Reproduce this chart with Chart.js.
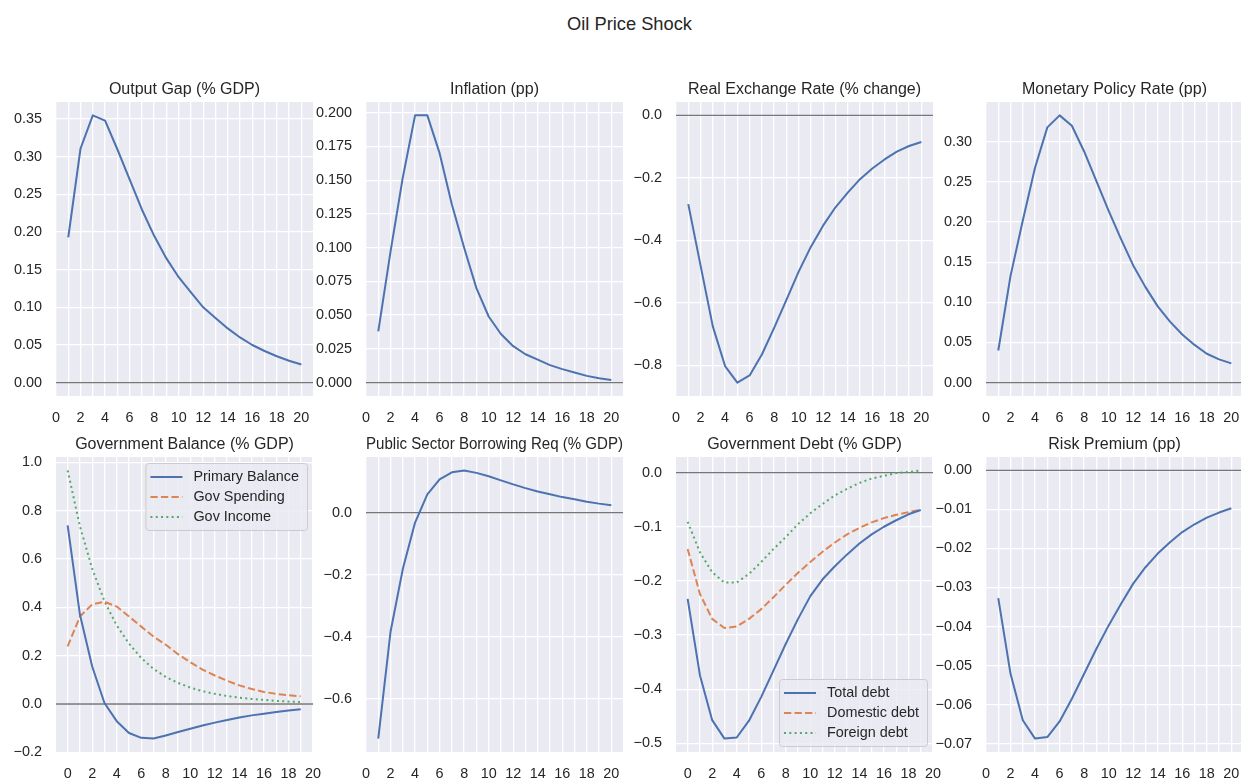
<!DOCTYPE html>
<html><head><meta charset="utf-8">
<script src="https://cdn.jsdelivr.net/npm/chart.js@4"></script>
<style>
html,body{margin:0;padding:0;background:#fff;overflow:hidden;width:1241px;height:779px;position:relative;}
#sup{position:absolute;left:0;width:1259px;top:12px;text-align:center;font-family:'Liberation Sans',Arial,sans-serif;font-size:18.3px;line-height:24px;color:#262626;}
canvas{position:absolute;}
</style></head><body>
<div id="sup">Oil Price Shock</div>
<script>
// ---------------- data ----------------
const periods1 = [1,2,3,4,5,6,7,8,9,10,11,12,13,14,15,16,17,18,19,20];
const periods0 = [0,1,2,3,4,5,6,7,8,9,10,11,12,13,14,15,16,17,18,19];
const xGrid = [0,1,2,3,4,5,6,7,8,9,10,11,12,13,14,15,16,17,18,19,20];
const xTickLabels = [0,2,4,6,8,10,12,14,16,18,20];

const outputGap = [0.193,0.311,0.355,0.348,0.310,0.270,0.230,0.195,0.165,0.140,0.120,0.100,0.086,0.072,0.060,0.050,0.042,0.035,0.029,0.024];
const inflation = [0.038,0.097,0.152,0.198,0.198,0.170,0.132,0.100,0.070,0.049,0.036,0.027,0.021,0.017,0.013,0.010,0.0075,0.005,0.0033,0.002];
const realExchangeRate = [-0.284,-0.48,-0.675,-0.802,-0.855,-0.832,-0.765,-0.68,-0.59,-0.50,-0.42,-0.352,-0.294,-0.247,-0.204,-0.170,-0.141,-0.116,-0.098,-0.085];
const policyRate = [0.040,0.133,0.202,0.268,0.318,0.333,0.320,0.288,0.251,0.214,0.179,0.146,0.119,0.095,0.076,0.060,0.047,0.036,0.029,0.024];
const primaryBalance = [0.739,0.370,0.155,0.004,-0.071,-0.120,-0.140,-0.143,-0.130,-0.116,-0.102,-0.089,-0.077,-0.066,-0.056,-0.047,-0.040,-0.033,-0.027,-0.022];
const govSpending = [0.238,0.362,0.412,0.423,0.403,0.362,0.320,0.279,0.245,0.206,0.173,0.142,0.118,0.096,0.077,0.062,0.050,0.042,0.036,0.032];
const govIncome = [0.966,0.735,0.560,0.425,0.325,0.250,0.190,0.145,0.112,0.087,0.068,0.053,0.042,0.033,0.026,0.021,0.017,0.013,0.010,0.008];
const psbr = [-0.728,-0.384,-0.182,-0.032,0.059,0.107,0.130,0.136,0.128,0.117,0.104,0.091,0.079,0.068,0.059,0.050,0.043,0.035,0.029,0.024];
const totalDebt = [-0.233,-0.374,-0.457,-0.491,-0.489,-0.458,-0.414,-0.365,-0.316,-0.270,-0.228,-0.197,-0.173,-0.151,-0.131,-0.114,-0.100,-0.088,-0.077,-0.069];
const domesticDebt = [-0.141,-0.224,-0.270,-0.287,-0.284,-0.270,-0.252,-0.230,-0.207,-0.185,-0.165,-0.146,-0.129,-0.114,-0.102,-0.092,-0.084,-0.078,-0.073,-0.069];
const foreignDebt = [-0.091,-0.147,-0.184,-0.203,-0.203,-0.187,-0.165,-0.141,-0.119,-0.095,-0.075,-0.058,-0.042,-0.030,-0.019,-0.011,-0.006,-0.001,0.001,0.004];
const riskPremium = [-0.0327,-0.0521,-0.0640,-0.0687,-0.0683,-0.0643,-0.0585,-0.0521,-0.0457,-0.0397,-0.0342,-0.0290,-0.0248,-0.0213,-0.0184,-0.0158,-0.0138,-0.0121,-0.0108,-0.0097];

const yTicksOutput = [0,0.05,0.10,0.15,0.20,0.25,0.30,0.35];
const yTicksInflation = [0,0.025,0.05,0.075,0.10,0.125,0.15,0.175,0.20];
const yTicksRER = [-0.8,-0.6,-0.4,-0.2,0];
const yTicksPolicy = [0,0.05,0.10,0.15,0.20,0.25,0.30];
const yTicksBalance = [-0.2,0,0.2,0.4,0.6,0.8,1.0];
const yTicksPSBR = [-0.6,-0.4,-0.2,0];
const yTicksDebt = [-0.5,-0.4,-0.3,-0.2,-0.1,0];
const yTicksRisk = [-0.07,-0.06,-0.05,-0.04,-0.03,-0.02,-0.01,0];

const titles = ['Output Gap (% GDP)','Inflation (pp)','Real Exchange Rate (% change)','Monetary Policy Rate (pp)',
  'Government Balance (% GDP)','Public Sector Borrowing Req (% GDP)','Government Debt (% GDP)','Risk Premium (pp)'];

// ---------------- style ----------------
const FONT = "'Liberation Sans', Arial, Helvetica, sans-serif";
const TEXT = '#262626';
const BLUE = '#4c72b0', ORANGE = '#dd8452', GREEN = '#55a868';
const DASH = [7.3, 3.2], DOT = [2, 3.3];
const colLeft = [56, 366, 676, 986];
const rowTop = [102, 457];
const rowH = [294, 295];
const plotW = 257;
const PL = 56, PR = 32, PT = 30, PB = 40;

function fmt(v, d){ if (Math.abs(v) < 1e-12) v = 0; return v.toFixed(d).replace('-', '\u2212'); }

const bgPlugin = { id:'bg', beforeDraw(c){ const a=c.chartArea, ctx=c.ctx; ctx.save(); ctx.fillStyle='#eaeaf2'; ctx.fillRect(a.left,a.top,a.right-a.left,a.bottom-a.top); ctx.restore(); } };
const zeroPlugin = { id:'zero', beforeDatasetsDraw(c){ const a=c.chartArea, ctx=c.ctx; const y=c.scales.y.getPixelForValue(0);
  ctx.save(); ctx.strokeStyle='#767676'; ctx.lineWidth=1.3; ctx.beginPath(); ctx.moveTo(a.left,y); ctx.lineTo(a.right,y); ctx.stroke(); ctx.restore(); } };
const legendPlugin = { id:'boxLegend', afterDatasetsDraw(c, args, opts){
  if (!opts || !opts.corner) return;
  const ctx=c.ctx, a=c.chartArea, ds=c.data.datasets;
  ctx.save(); ctx.font = '14.4px ' + FONT;
  const tw = Math.max(...ds.map(d=>ctx.measureText(d.label).width));
  const w = 5+32+11+tw+8, h = 67;
  const x = a.right-6-w, y = opts.corner==='tr' ? a.top+6 : a.bottom-6-h;
  ctx.beginPath(); ctx.roundRect(x+0.5,y+0.5,w,h,3);
  ctx.fillStyle='rgba(234,234,242,0.8)'; ctx.fill(); ctx.strokeStyle='#cccccc'; ctx.lineWidth=1; ctx.stroke();
  ds.forEach((d,i)=>{ const cy=y+14+20*i;
    ctx.strokeStyle=d.borderColor; ctx.lineWidth=d.borderWidth; ctx.setLineDash(d.borderDash||[]);
    ctx.beginPath(); ctx.moveTo(x+5,cy); ctx.lineTo(x+37,cy); ctx.stroke(); ctx.setLineDash([]);
    ctx.fillStyle=TEXT; ctx.textBaseline='middle'; ctx.textAlign='left'; ctx.fillText(d.label, x+48, cy+0.5); });
  ctx.restore(); } };

function makePanel(p){
  const W = PL + plotW + PR, H = PT + rowH[p.row] + PB;
  const cv = document.createElement('canvas');
  cv.width = W; cv.height = H; cv.style.width = W+'px'; cv.style.height = H+'px';
  cv.style.left = (colLeft[p.col]-PL)+'px'; cv.style.top = (rowTop[p.row]-PT)+'px';
  document.body.appendChild(cv);
  const all = p.series.flatMap(s=>s.data).concat([0]);
  const lo = Math.min(...all), hi = Math.max(...all), m = (hi-lo)*0.05;
  const xs = p.xs, xr = xs[xs.length-1]-xs[0];
  const xmin = Math.min(xGrid[0], xs[0]-0.05*xr), xmax = Math.max(xGrid[xGrid.length-1], xs[xs.length-1]+0.05*xr);
  const tickFont = {family:FONT, size:14.4};
  new Chart(cv, {
    type:'line',
    data:{ datasets: p.series.map(s=>({ label:s.label, data: xs.map((x,i)=>({x:x, y:s.data[i]})), borderColor:s.color, backgroundColor:s.color,
      borderWidth:2, borderDash:s.dash||[], pointRadius:0, tension:0, fill:false, borderJoinStyle:'round' })) },
    options:{
      responsive:false, animation:false, devicePixelRatio:1,
      layout:{ padding:{left:0, right:PR, top:0, bottom:0} },
      plugins:{ legend:{display:false}, tooltip:{enabled:false},
        title:{ display:true, fullSize:false, text:p.title, color:TEXT, font:{family:FONT, size:16, weight:'normal', lineHeight:1.2}, padding:{top:7.9, bottom:2.9} },
        boxLegend:{ corner:p.legend||null } },
      scales:{
        x:{ type:'linear', min:xmin, max:xmax,
          afterBuildTicks:s=>{ s.ticks = xGrid.map(v=>({value:v})); },
          afterFit:s=>{ s.height = PB; },
          ticks:{ autoSkip:false, maxRotation:0, minRotation:0, padding:13, color:TEXT, font:tickFont,
            callback:v=> xTickLabels.includes(v) ? String(v) : '' },
          grid:{ color:'#ffffff', lineWidth:1.3, drawTicks:false }, border:{display:false} },
        y:{ type:'linear', min:lo-m, max:hi+m,
          afterBuildTicks:s=>{ s.ticks = p.yTicks.map(v=>({value:v})); },
          afterFit:s=>{ s.width = PL; },
          ticks:{ padding:14, color:TEXT, font:tickFont, callback:v=>fmt(v, p.yDec) },
          grid:{ color:'#ffffff', lineWidth:1.3, drawTicks:false }, border:{display:false} }
      }
    },
    plugins:[bgPlugin, zeroPlugin, legendPlugin]
  });
}

const panels = [
  {row:0,col:0,title:titles[0],xs:periods1,yTicks:yTicksOutput,yDec:2,series:[{label:'Output Gap',data:outputGap,color:BLUE}]},
  {row:0,col:1,title:titles[1],xs:periods1,yTicks:yTicksInflation,yDec:3,series:[{label:'Inflation',data:inflation,color:BLUE}]},
  {row:0,col:2,title:titles[2],xs:periods1,yTicks:yTicksRER,yDec:1,series:[{label:'Real Exchange Rate',data:realExchangeRate,color:BLUE}]},
  {row:0,col:3,title:titles[3],xs:periods1,yTicks:yTicksPolicy,yDec:2,series:[{label:'Monetary Policy Rate',data:policyRate,color:BLUE}]},
  {row:1,col:0,title:titles[4],xs:periods0,yTicks:yTicksBalance,yDec:1,legend:'tr',series:[
    {label:'Primary Balance',data:primaryBalance,color:BLUE},
    {label:'Gov Spending',data:govSpending,color:ORANGE,dash:DASH},
    {label:'Gov Income',data:govIncome,color:GREEN,dash:DOT}]},
  {row:1,col:1,title:titles[5],xs:periods1,yTicks:yTicksPSBR,yDec:1,series:[{label:'PSBR',data:psbr,color:BLUE}]},
  {row:1,col:2,title:titles[6],xs:periods0,yTicks:yTicksDebt,yDec:1,legend:'br',series:[
    {label:'Total debt',data:totalDebt,color:BLUE},
    {label:'Domestic debt',data:domesticDebt,color:ORANGE,dash:DASH},
    {label:'Foreign debt',data:foreignDebt,color:GREEN,dash:DOT}]},
  {row:1,col:3,title:titles[7],xs:periods1,yTicks:yTicksRisk,yDec:2,series:[{label:'Risk Premium',data:riskPremium,color:BLUE}]}
];
panels.forEach(makePanel);
</script>
</body></html>
